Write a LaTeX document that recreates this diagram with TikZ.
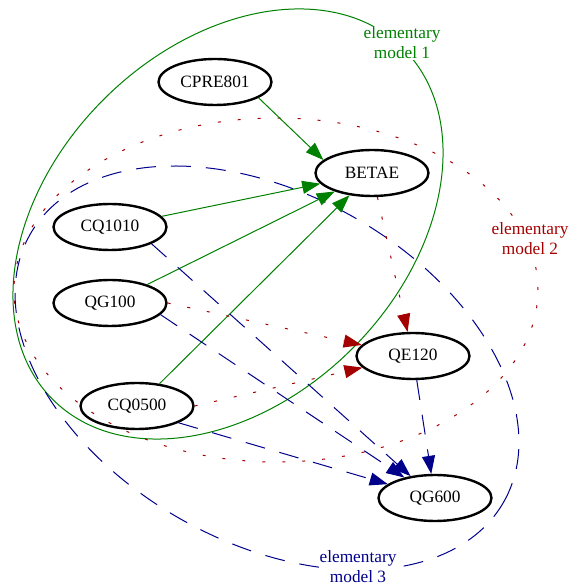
\documentclass[tikz,border=0pt]{standalone}
\usepackage{fontspec}
\setmainfont{Liberation Serif}
\usetikzlibrary{arrows.meta,shapes.geometric}

\definecolor{modelgreen}{RGB}{0,128,0}
\definecolor{modelred}{RGB}{165,0,0}
\definecolor{modelblue}{RGB}{0,0,139}

\begin{document}
\begin{tikzpicture}[x=1pt,y=1pt,>={Triangle[length=18pt,width=13pt]},
        node distance=76pt,
        var/.style={draw,ellipse,line width=2.4pt,minimum width=113pt,
          minimum height=46pt,inner sep=0pt,font=\fontsize{17.3}{20}\selectfont},
        modelone/.style={->,modelgreen,line width=1pt},
        modeltwo/.style={->,modelred,line width=1pt,dash pattern=on 3pt off 17pt},
        modelthree/.style={->,modelblue,line width=1pt,dash pattern=on 20pt off 15pt},
        lbl/.style={fill=white,inner sep=1pt,align=center,
          font=\fontsize{17.3}{20}\selectfont}]

  \useasboundingbox (0,0) rectangle (576,586);

  % elementary models
  \draw[modelgreen,line width=1pt,rotate around={45:(228,362)}]
    (228,362) ellipse [x radius=248pt,y radius=176pt];
  \draw[modelred,line width=1pt,dash pattern=on 3pt off 17pt]
    (276,296) ellipse [x radius=262pt,y radius=172pt];
  \draw[modelblue,line width=1pt,dash pattern=on 20pt off 15pt,
    rotate around={-29.4:(267,218)}]
    (267,218) ellipse [x radius=272pt,y radius=174pt];

  \node[lbl,text=modelgreen] (m1) at (402,543) {elementary\\model 1};
  \node[lbl,text=modelred] (m2) at (530,347) {elementary\\model 2};
  \node[lbl,text=modelblue] (m3) at (358,19) {elementary\\model 3};

  % variables
  \node[var] (CPRE801) at (215,504) {CPRE801};
  \node[var] (BETAE) at (372,413) {BETAE};
  \node[var] (CQ1010) at (110,359) {CQ1010};
  \node[var] (QG100) [below of=CQ1010] {QG100};
  \node[var] (CQ0500) at (137,180) {CQ0500};
  \node[var] (QE120) at (413,230) {QE120};
  \node[var] (QG600) at (435,88) {QG600};

  \path (CPRE801.-20) edge[modelone] (BETAE.165)
        (CQ1010)  edge[modelone] (BETAE)
        (QG100)   edge[modelone] (BETAE)
        (CQ0500)  edge[modelone] (BETAE);

  \path (BETAE)       edge[modeltwo] (QE120)
        (QG100.east)  edge[modeltwo] (QE120)
        (CQ0500.east) edge[modeltwo] (QE120);

  \path (CQ1010.-22) edge[modelthree] (QG600)
        (QG100.-13)  edge[modelthree] (QG600)
        (CQ0500.-22) edge[modelthree] (QG600)
        (QE120)      edge[modelthree] (QG600);

\end{tikzpicture}
\end{document}
